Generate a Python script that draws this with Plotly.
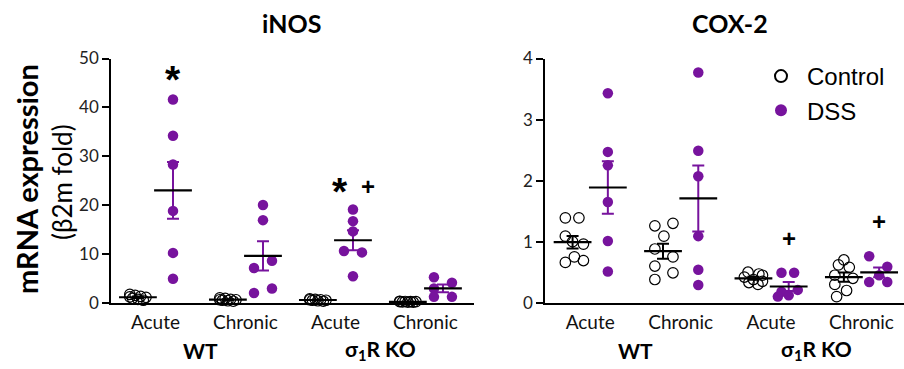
import numpy as np
import plotly.graph_objects as go

# ---------------- data ----------------
groups = ["Acute", "Chronic", "Acute", "Chronic"]
genotypes = ["WT", "σ<sub>1</sub>R KO"]

inos_control = [
    [1.7, 1.5, 1.3, 1.1, 0.9, 0.7, 0.5, 1.2],
    [1.0, 0.9, 0.7, 0.6, 0.5, 0.4, 0.3, 0.6],
    [0.8, 0.7, 0.6, 0.5, 0.5, 0.4, 0.3, 0.6],
    [0.3, 0.25, 0.2, 0.2, 0.15, 0.1, 0.1, 0.2],
]
inos_dss = [
    [41.6, 34.2, 28.3, 18.8, 10.2, 4.9],
    [20.0, 16.9, 8.6, 7.1, 2.9, 2.0],
    [19.1, 16.7, 14.6, 10.6, 10.3, 5.4],
    [5.2, 4.1, 2.9, 1.2, 1.2],
]
cox_control = [
    [1.39, 1.39, 1.09, 1.00, 0.96, 0.66, 0.75, 0.69],
    [1.26, 1.30, 1.09, 0.88, 0.75, 0.60, 0.49, 0.38],
    [0.50, 0.47, 0.42, 0.38, 0.35, 0.33, 0.30, 0.45],
    [0.70, 0.62, 0.58, 0.45, 0.40, 0.30, 0.20, 0.10],
]
cox_dss = [
    [3.43, 2.47, 2.25, 1.65, 1.01, 0.51],
    [3.77, 2.49, 2.07, 1.09, 0.54, 0.29],
    [0.49, 0.49, 0.21, 0.18, 0.12, 0.10],
    [0.76, 0.59, 0.45, 0.34, 0.34],
]

# horizontal scatter offsets (style only)
inos_ctrl_jit = [[-0.09, -0.03, 0.03, 0.09, -0.06, 0.0, 0.06, -0.09]] * 4
inos_dss_jit = [
    [0, 0, 0, 0, 0, 0],
    [0, 0, 0.1, -0.1, 0.1, -0.1],
    [0, 0, 0, -0.1, 0.1, 0],
    [-0.1, 0.1, -0.1, -0.1, 0.1],
]
cox_ctrl_jit = [
    [-0.08, 0.07, -0.08, 0.0, 0.12, -0.08, 0.02, 0.12],
    [-0.09, 0.11, 0.01, -0.09, 0.11, -0.09, 0.11, -0.09],
    [-0.06, 0.06, -0.1, 0.0, 0.1, -0.05, 0.05, 0.1],
    [0.0, -0.06, 0.06, -0.1, 0.1, -0.1, 0.03, -0.08],
]
cox_dss_jit = [
    [0, 0, 0, 0, 0, 0],
    [0, 0, 0, 0, 0, 0],
    [-0.08, 0.06, 0.1, -0.08, 0.0, -0.12],
    [-0.11, 0.09, 0.0, -0.11, 0.09],
]

PURPLE = "#77139d"
OFF = 0.195

fig = go.Figure()


def add_panel(ctrl, dss, cj, dj, xa, ya, legend):
    for g in range(4):
        for vals, jit, off, kind in ((ctrl, cj, -OFF, "c"), (dss, dj, OFF, "d")):
            v = np.array(vals[g])
            xs = g + off + np.array(jit[g])
            if kind == "c":
                marker = dict(symbol="circle-open", size=10.5, color="black",
                              line=dict(width=1.2, color="black"))
                name = "Control"
            else:
                marker = dict(symbol="circle", size=10.5, color=PURPLE)
                name = "DSS"
            fig.add_trace(go.Scatter(
                x=xs, y=v, mode="markers", marker=marker, name=name,
                showlegend=(legend and g == 0), cliponaxis=False,
                xaxis=xa, yaxis=ya, hoverinfo="y"))
            mean = v.mean()
            sem = v.std(ddof=1) / np.sqrt(len(v))
            ecol = "black" if kind == "c" else PURPLE
            fig.add_trace(go.Scatter(
                x=[g + off], y=[mean], mode="markers",
                marker=dict(symbol="line-ew", size=27,
                            line=dict(width=2.2, color="black")),
                error_y=dict(type="data", array=[sem], color=ecol,
                             thickness=2, width=6),
                showlegend=False, cliponaxis=False,
                xaxis=xa, yaxis=ya, hoverinfo="skip"))


add_panel(inos_control, inos_dss, inos_ctrl_jit, inos_dss_jit, "x", "y", False)
add_panel(cox_control, cox_dss, cox_ctrl_jit, cox_dss_jit, "x2", "y2", True)

TICKFONT = dict(family="Lato", size=19, color="#111")
YTICKFONT = dict(family="Lato", size=17, color="#222")
ydom = [1 - 302.7 / 369, 1 - 58.5 / 369]

xcommon = dict(tickvals=[0, 1, 2, 3], ticktext=groups, ticks="",
               showline=True, linewidth=2.2, linecolor="black",
               showgrid=False, zeroline=False, tickfont=TICKFONT,
               ticklabelstandoff=1, fixedrange=True)
ycommon = dict(showline=True, linewidth=1.5, linecolor="black",
               ticks="outside", ticklen=7, tickwidth=1.5, tickcolor="black",
               showgrid=False, zeroline=False, tickfont=YTICKFONT,
               domain=ydom, fixedrange=True)

fig.update_layout(
    width=904, height=369,
    margin=dict(l=0, r=0, t=0, b=0, autoexpand=False),
    paper_bgcolor="white", plot_bgcolor="white",
    xaxis=dict(domain=[111 / 904, 474 / 904], range=[-0.494, 3.54], **xcommon),
    xaxis2=dict(domain=[545 / 904, 1.0], range=[-0.5, 3.47], anchor="y2", **xcommon),
    yaxis=dict(range=[0, 50], tickvals=[0, 10, 20, 30, 40, 50], **ycommon),
    yaxis2=dict(range=[0, 4], tickvals=[0, 1, 2, 3, 4], anchor="x2", **ycommon),
    legend=dict(x=755 / 904, y=1 - 54 / 369, xanchor="left", yanchor="top",
                font=dict(family="Liberation Sans", size=24, color="black"),
                bgcolor="rgba(0,0,0,0)", itemsizing="constant",
                itemwidth=42, tracegroupgap=0),
    showlegend=True,
)


def A(**kw):
    kw.setdefault("showarrow", False)
    kw.setdefault("xanchor", "center")
    kw.setdefault("yanchor", "middle")
    return kw


ann = []
# panel titles
ann.append(A(text="<b>iNOS</b>", x=291.7 / 904, y=1 - 23 / 369, xref="paper", yref="paper",
             font=dict(family="Lato", size=25, color="black")))
ann.append(A(text="<b>COX-2</b>", x=730 / 904, y=1 - 23 / 369, xref="paper", yref="paper",
             font=dict(family="Lato", size=25, color="black")))
# y-axis title
ann.append(A(text="<b>mRNA expression</b>", x=26 / 904, y=1 - 179 / 369, xref="paper", yref="paper",
             textangle=-90, font=dict(family="Lato", size=29, color="black")))
ann.append(A(text="(β2m fold)", x=62 / 904, y=1 - 182 / 369, xref="paper", yref="paper",
             textangle=-90, font=dict(family="Lato", size=26, color="black")))
# genotype labels
for xa in ("x", "x2"):
    for i, gname in enumerate(genotypes):
        ann.append(A(text="<b>" + gname + "</b>", x=2 * i + 0.5, y=1 - 350 / 369,
                     xref=xa, yref="paper",
                     font=dict(family="Lato", size=21, color="black")))
# significance marks
STAR = dict(family="Liberation Sans", size=39, color="black")
PLUS = dict(family="Liberation Sans", size=24, color="black")
ann.append(A(text="<b>*</b>", x=0 + OFF, y=45.8, xref="x", yref="y", font=STAR))
ann.append(A(text="<b>*</b>", x=2 + OFF - 0.14, y=22.7, xref="x", yref="y", font=STAR))
ann.append(A(text="<b>+</b>", x=2 + OFF + 0.17, y=23.8, xref="x", yref="y", font=PLUS))
ann.append(A(text="<b>+</b>", x=2 + OFF, y=1.05, xref="x2", yref="y2", font=PLUS))
ann.append(A(text="<b>+</b>", x=3 + OFF, y=1.33, xref="x2", yref="y2", font=PLUS))
fig.update_layout(annotations=ann)

fig.write_html("out.html")
